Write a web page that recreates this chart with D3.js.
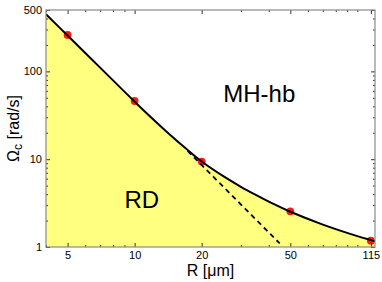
<!DOCTYPE html>
<html><head><meta charset="utf-8">
<script src="https://cdn.jsdelivr.net/npm/d3@7"></script>
<style>
html,body{margin:0;padding:0;background:#fff;}
svg{display:block;font-family:"Liberation Sans",Arial,sans-serif;}
</style></head>
<body>
<svg id="c" width="382" height="282"></svg>
<script>
// Boundary curve (solid): R [µm], Omega_c [rad/s]
const curveR     = [4, 5, 7, 10, 12, 14, 17, 20, 25, 30, 35, 42, 50, 70, 100, 115, 120];
const curveOmega = [447, 256, 110.4, 45.2, 29.1, 20.3, 13.2, 9.4, 6.4, 4.85, 3.92, 3.09, 2.52, 1.8, 1.33, 1.2, 1.164];
// Dashed power-law asymptote
const dashR     = [17.3, 44.8];
const dashOmega = [12.4, 1.1];
// Red data points
const pointR     = [5, 10, 20, 50, 115];
const pointOmega = [260, 46, 9.4, 2.55, 1.18];
// Tick labels
const xTicks = [5, 10, 20, 50, 115];
const yTicks = [1, 10, 100, 500];
const xMinor = [4, 6, 7, 8, 9, 30, 40, 60, 70, 80, 90, 100];
const yMinor = [2, 3, 4, 5, 6, 7, 8, 9, 20, 30, 40, 50, 60, 70, 80, 90, 200, 300, 400];
// Region labels
const regionLabels = [{t: "MH-hb", R: 25, O: 45}, {t: "RD", R: 9, O: 2.76}];

const W = 382, H = 282;
const m = {l: 46, t: 10, r: 7, b: 35};
const svg = d3.select("#c");
const x = d3.scaleLog().domain([4, 120]).range([m.l, W - m.r]);
const y = d3.scaleLog().domain([1, 500]).range([H - m.b, m.t]);

const curve = curveR.map((r, i) => [r, curveOmega[i]]);
svg.append("clipPath").attr("id", "pc").append("rect")
  .attr("x", m.l).attr("y", m.t).attr("width", W - m.l - m.r).attr("height", H - m.t - m.b);
const g = svg.append("g").attr("clip-path", "url(#pc)");

g.append("path").datum(curve)
  .attr("d", d3.area().x(d => x(d[0])).y0(y(1)).y1(d => y(d[1])).curve(d3.curveCatmullRom))
  .attr("fill", "#ffff80");

g.selectAll("circle").data(pointR).enter().append("circle")
  .attr("cx", d => x(d)).attr("cy", (d, i) => y(pointOmega[i])).attr("r", 3.9)
  .attr("fill", "#ff1818");

g.append("path").datum(dashR.map((r, i) => [r, dashOmega[i]]))
  .attr("d", d3.line().x(d => x(d[0])).y(d => y(d[1])))
  .attr("fill", "none").attr("stroke", "#000").attr("stroke-width", 1.8)
  .attr("stroke-dasharray", "5,4");

g.append("path").datum(curve)
  .attr("d", d3.line().x(d => x(d[0])).y(d => y(d[1])).curve(d3.curveCatmullRom))
  .attr("fill", "none").attr("stroke", "#000").attr("stroke-width", 2);

// Axes (ticks inward on all sides)
function ax(gen, scale, major, minor, tf) {
  return [gen(scale).tickValues(major).tickSizeInner(-4).tickSizeOuter(0).tickPadding(4).tickFormat(tf),
          gen(scale).tickValues(minor).tickSizeInner(-2).tickSizeOuter(0).tickFormat("")];
}
const fmt = d3.format("d");
const axes = [
  [d3.axisBottom, x, `translate(0,${H - m.b})`, fmt],
  [d3.axisTop, x, `translate(0,${m.t})`, ""],
  [d3.axisLeft, y, `translate(${m.l},0)`, fmt],
  [d3.axisRight, y, `translate(${W - m.r},0)`, ""]
];
axes.forEach(([gen, sc, tr, tf]) => {
  const isX = sc === x;
  const [a1, a2] = ax(gen, sc, isX ? xTicks : yTicks, isX ? xMinor : yMinor, tf);
  const ga = svg.append("g").attr("transform", tr).call(a1);
  const gb = svg.append("g").attr("transform", tr).call(a2);
  [ga, gb].forEach(s => {
    s.select(".domain").remove();
    s.selectAll("line").attr("stroke", "#333");
    s.selectAll("text").attr("fill", "#000").style("font-size", "11px").attr("font-family", null);
  });
});
svg.append("rect").attr("x", m.l).attr("y", m.t)
  .attr("width", W - m.l - m.r).attr("height", H - m.t - m.b)
  .attr("fill", "none").attr("stroke", "#8a8a8a").attr("stroke-width", 1.2);

// Region labels
svg.selectAll("text.reg").data(regionLabels).enter().append("text")
  .attr("class", "reg").attr("x", d => x(d.R)).attr("y", d => y(d.O))
  .style("font-size", "24px").attr("fill", "#000").text(d => d.t);

// Axis titles
svg.append("text").attr("x", (m.l + W - m.r) / 2).attr("y", 275.5)
  .attr("text-anchor", "middle").style("font-size", "16px").text("R [μm]");
const yl = svg.append("text").attr("transform", `translate(19,${(m.t + H - m.b) / 2}) rotate(-90)`)
  .attr("text-anchor", "middle").style("font-size", "16px");
yl.append("tspan").text("Ω");
yl.append("tspan").text("c").attr("dy", 3).style("font-size", "12px");
yl.append("tspan").text(" [rad/s]").attr("dy", -3);
</script>
</body></html>
